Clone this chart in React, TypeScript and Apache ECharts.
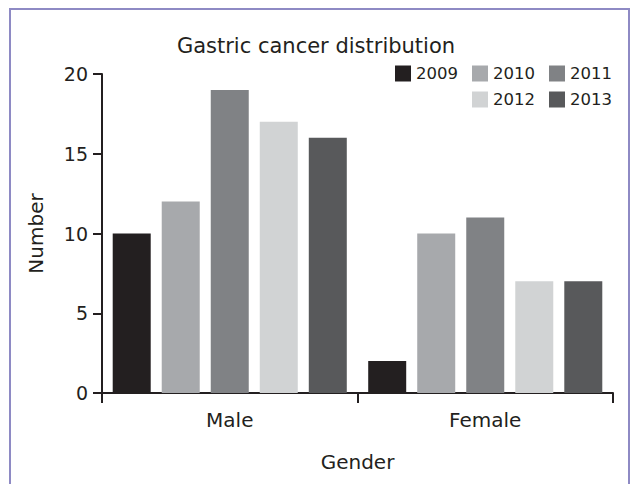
import React, { useEffect, useRef } from "react";
import * as echarts from "echarts";

const categories = ["Male", "Female"];
const years = ["2009", "2010", "2011", "2012", "2013"];
const values2009 = [10, 2];
const values2010 = [12, 10];
const values2011 = [19, 11];
const values2012 = [17, 7];
const values2013 = [16, 7];
const colors = ["#231f20", "#a7a9ac", "#808285", "#d1d3d4", "#58595b"];
const yTicks = [0, 5, 10, 15, 20];

const FONT = "'DejaVu Sans', sans-serif";
const INK = "#231f20";

export default function App() {
  const ref = useRef<HTMLDivElement>(null);
  useEffect(() => {
    if (!ref.current) return;
    const chart = echarts.init(ref.current, null, { renderer: "svg" });
    const seriesValues = [values2009, values2010, values2011, values2012, values2013];
    const legendBase = {
      right: 15,
      itemWidth: 16,
      itemHeight: 16,
      itemGap: 14,
      icon: "rect",
      textStyle: { fontFamily: FONT, fontSize: 16.5, color: INK },
    };
    chart.setOption({
      animation: false,
      backgroundColor: "#ffffff",
      textStyle: { fontFamily: FONT, color: INK },
      title: {
        text: "Gastric cancer distribution",
        left: "center",
        top: 30,
        textStyle: { fontFamily: FONT, fontSize: 21, fontWeight: "normal", color: INK },
      },
      legend: [
        { ...legendBase, data: years.slice(0, 3), top: 60 },
        { ...legendBase, data: years.slice(3), top: 86 },
      ],
      grid: { left: 102, right: 19, top: 74, bottom: 91, containLabel: false },
      xAxis: {
        type: "category",
        data: categories,
        name: "Gender",
        nameLocation: "middle",
        nameGap: 59,
        nameTextStyle: { fontFamily: FONT, fontSize: 20, color: INK },
        axisLine: { lineStyle: { color: INK, width: 2 } },
        axisTick: { show: true, length: 10, lineStyle: { color: INK, width: 2 } },
        axisLabel: { fontFamily: FONT, fontSize: 20, color: INK, margin: 17 },
      },
      yAxis: {
        type: "value",
        min: yTicks[0],
        max: yTicks[yTicks.length - 1],
        interval: 5,
        name: "Number",
        nameLocation: "middle",
        nameGap: 56,
        nameTextStyle: { fontFamily: FONT, fontSize: 20, color: INK },
        axisLine: { show: true, lineStyle: { color: INK, width: 2 } },
        axisTick: { show: true, length: 9, lineStyle: { color: INK, width: 2 } },
        axisLabel: { fontFamily: FONT, fontSize: 19, color: INK, margin: 14 },
        splitLine: { show: false },
      },
      series: years.map((y, i) => ({
        name: y,
        type: "bar",
        data: seriesValues[i],
        barWidth: 38,
        barGap: "29%",
        itemStyle: { color: colors[i] },
      })),
      graphic: [
        {
          type: "rect",
          shape: { x: 10, y: 9, width: 619, height: 490 },
          style: { fill: "none", stroke: "#8e8ac4", lineWidth: 2 },
          silent: true,
        },
      ],
    });
    return () => chart.dispose();
  }, []);
  return <div ref={ref} style={{ width: 632, height: 484, position: "absolute", left: 0, top: 0 }} />;
}
